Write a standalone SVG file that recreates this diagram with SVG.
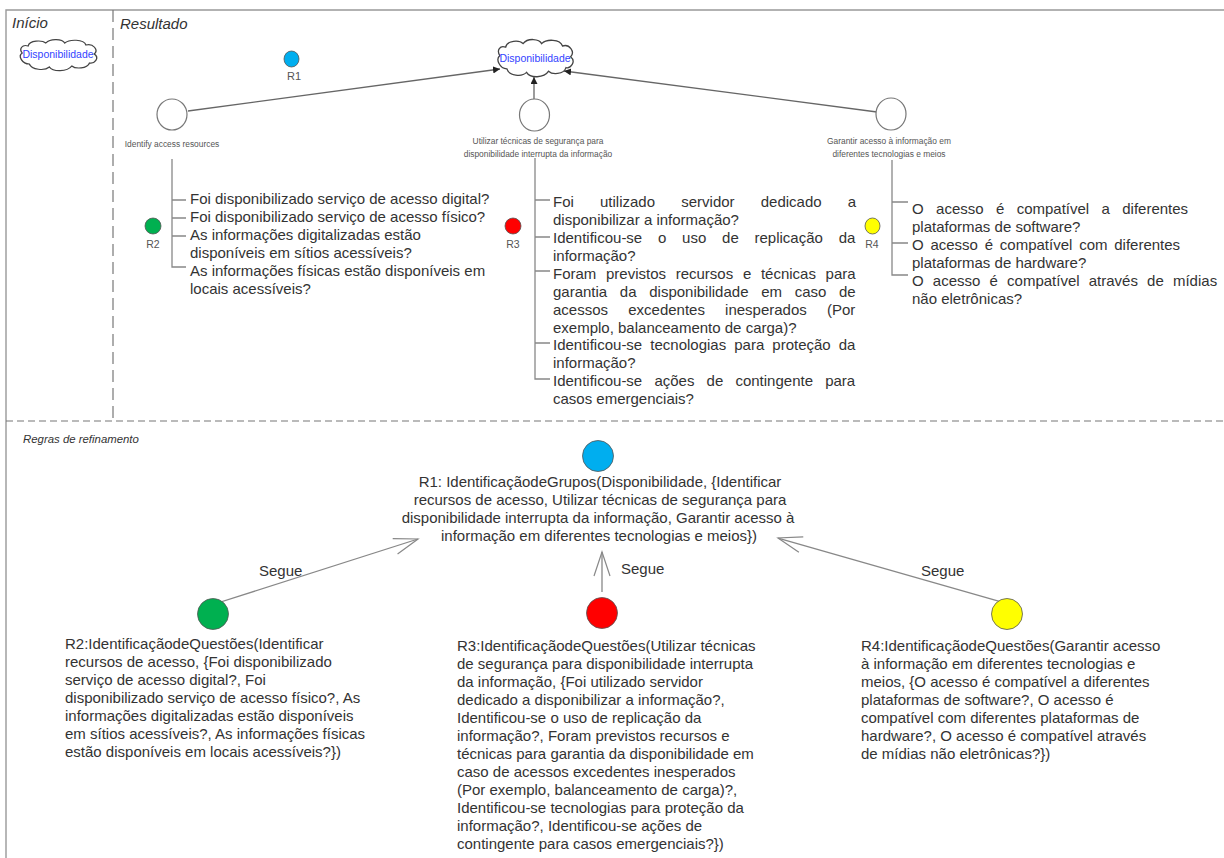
<svg xmlns="http://www.w3.org/2000/svg" width="1224" height="858" viewBox="0 0 1224 858">
<style>
text{font-family:"Liberation Sans",Arial,sans-serif;fill:#333}
.lane{font-size:15px;font-style:italic}
.q{font-size:15px}
.b{font-size:15px}
.s{font-size:8.400px;fill:#555}
.r{font-size:10.500px;fill:#555}
.c{text-anchor:middle}
.cl{font-size:10.500px;fill:#3344ff;text-anchor:middle}
.line{fill:none;stroke:#888;stroke-width:1.3}
.n{fill:#fff;stroke:#777;stroke-width:1.2}
.dot{stroke:#555;stroke-width:.8}
.cloud{fill:#fff;stroke:#444;stroke-width:1.1}
</style>
<defs>
<marker id="tri" markerWidth="8" markerHeight="8" refX="7" refY="3.5" orient="auto" markerUnits="userSpaceOnUse"><path d="M0 0L7 3.5L0 7Z" fill="#222"/></marker>
<marker id="open" markerWidth="30" markerHeight="20" refX="26" refY="10" orient="auto" markerUnits="userSpaceOnUse"><path d="M2 2L26 10L2 18" fill="none" stroke="#888" stroke-width="1.200"/></marker>
<path id="cl" d="M-27 -9C-26 -15 -15 -15 -12 -12C-8 -17 2 -16 4 -12C8 -16 20 -16 22 -10C28 -12 33 -5 29 -1C34 3 29 9 25 8C23 14 13 14 10 11C6 17 -6 17 -9 12C-13 16 -24 15 -26 9C-32 9 -36 1 -32 -2C-35 -6 -32 -11 -27 -9Z"/>
</defs>
<g id="frame">
<path d="M6 858V10H1224" fill="none" stroke="#999" stroke-width="1.400"/>
<path d="M113 10V421" fill="none" stroke="#777" stroke-width="1.200" stroke-dasharray="12 6"/>
<path d="M6 421H1224" fill="none" stroke="#777" stroke-width="1.200" stroke-dasharray="7 4"/>
<text class="lane" x="12" y="28">Início</text>
<text class="lane" x="120" y="29">Resultado</text>
<text class="lane" style="font-size:11.400px" x="23" y="443">Regras de refinamento</text>
</g>
<g id="connectors">
<path class="line" style="stroke:#666" d="M188 111L500 69" marker-end="url(#tri)"/>
<path class="line" style="stroke:#666" d="M534 100V77" marker-end="url(#tri)"/>
<path class="line" style="stroke:#666" d="M877 112L564 71" marker-end="url(#tri)"/>
<path class="line" d="M172 159V267H186M172 200H186M172 218H186M172 236H186"/>
<path class="line" d="M535 158V379H550M535 200H550M535 237H550M535 271H550M535 343H550"/>
<path class="line" d="M892 160V275H908M892 202H908M892 243H908"/>
<path class="line" d="M205 607L418 539" marker-end="url(#open)"/>
<path class="line" d="M602 592V552" marker-end="url(#open)"/>
<path class="line" d="M1002 602L778 538" marker-end="url(#open)"/>
<text class="q" x="259" y="576">Segue</text>
<text class="q" x="621" y="574">Segue</text>
<text class="q" x="921" y="576">Segue</text>
</g>
<g id="cloud-inicio"><use class="cloud" href="#cl" transform="translate(60 55) scale(1.180 1)"/><text class="cl" x="58" y="58">Disponibilidade</text></g>
<g id="cloud-resultado"><use class="cloud" href="#cl" transform="translate(537 58) scale(1.160 1.200)"/><text class="cl" x="535" y="62">Disponibilidade</text></g>
<g id="r1-small"><ellipse class="dot" cx="291.500" cy="59" rx="7.500" ry="8" fill="#00aeef"/><text class="r c" style="font-size:11px" x="294" y="80">R1</text></g>
<g id="goal-1"><ellipse class="n" cx="172" cy="114.500" rx="15" ry="15.500"/><text class="s c" x="172" y="147">Identify access resources</text></g>
<g id="goal-2"><ellipse class="n" cx="534.500" cy="115" rx="15" ry="16"/><text class="s c" x="538" y="144">Utilizar técnicas de segurança para</text><text class="s c" x="538" y="157">disponibilidade interrupta da informação</text></g>
<g id="goal-3"><ellipse class="n" cx="891" cy="114" rx="15" ry="16"/><text class="s c" x="889" y="144">Garantir acesso à informação em</text><text class="s c" x="889" y="157">diferentes tecnologias e meios</text></g>
<g id="r2-small"><circle class="dot" cx="153" cy="226" r="8" fill="#00b050"/><text class="r c" x="153" y="248">R2</text></g>
<g id="r3-small"><circle class="dot" cx="513" cy="226" r="8" fill="#ff0000"/><text class="r c" x="513" y="248">R3</text></g>
<g id="r4-small"><ellipse class="dot" cx="872.500" cy="226" rx="7.500" ry="8" fill="#ffff00"/><text class="r c" x="872" y="248">R4</text></g>
<g id="questions-r2">
<text class="q" x="190" y="204">Foi disponibilizado serviço de acesso digital?</text>
<text class="q" x="190" y="222">Foi disponibilizado serviço de acesso físico?</text>
<text class="q" x="190" y="240">As informações digitalizadas estão</text>
<text class="q" x="190" y="258">disponíveis em sítios acessíveis?</text>
<text class="q" x="190" y="276">As informações físicas estão disponíveis em</text>
<text class="q" x="190" y="294">locais acessíveis?</text>
</g>
<g id="questions-r3">
<text class="q" x="553" y="207" style="word-spacing:22px">Foi utilizado servidor dedicado a</text>
<text class="q" x="553" y="225">disponibilizar a informação?</text>
<text class="q" x="553" y="243" style="word-spacing:11.600px">Identificou-se o uso de replicação da</text>
<text class="q" x="553" y="261">informação?</text>
<text class="q" x="553" y="279" style="word-spacing:5.500px">Foram previstos recursos e técnicas para</text>
<text class="q" x="553" y="297" style="word-spacing:8.500px">garantia da disponibilidade em caso de</text>
<text class="q" x="553" y="315" style="word-spacing:16px">acessos excedentes inesperados (Por</text>
<text class="q" x="553" y="333">exemplo, balanceamento de carga)?</text>
<text class="q" x="553" y="350" style="word-spacing:3.900px">Identificou-se tecnologias para proteção da</text>
<text class="q" x="553" y="368">informação?</text>
<text class="q" x="553" y="386" style="word-spacing:8px">Identificou-se ações de contingente para</text>
<text class="q" x="553" y="404">casos emergenciais?</text>
</g>
<g id="questions-r4">
<text class="q" x="912" y="214" style="word-spacing:8.200px">O acesso é compatível a diferentes</text>
<text class="q" x="912" y="232">plataformas de software?</text>
<text class="q" x="912" y="250" style="word-spacing:2.600px">O acesso é compatível com diferentes</text>
<text class="q" x="912" y="268">plataformas de hardware?</text>
<text class="q" x="912" y="286" style="word-spacing:5px">O acesso é compatível através de mídias</text>
<text class="q" x="912" y="304">não eletrônicas?</text>
</g>
<g id="rule-r1"><circle class="dot" cx="598" cy="456" r="15.500" fill="#00aeef"/>
<text class="b c" x="600" y="487">R1: IdentificaçãodeGrupos(Disponibilidade, {Identificar</text>
<text class="b c" x="600" y="505">recursos de acesso, Utilizar técnicas de segurança para</text>
<text class="b c" x="598" y="523">disponibilidade interrupta da informação, Garantir acesso à</text>
<text class="b c" x="599" y="541">informação em diferentes tecnologias e meios})</text></g>
<g id="rule-r2"><circle class="dot" cx="213" cy="614" r="15.500" fill="#00b050"/>
<text class="b" x="65" y="649">R2:IdentificaçãodeQuestões(Identificar</text>
<text class="b" x="65" y="667">recursos de acesso, {Foi disponibilizado</text>
<text class="b" x="65" y="685">serviço de acesso digital?, Foi</text>
<text class="b" x="65" y="703">disponibilizado serviço de acesso físico?, As</text>
<text class="b" x="65" y="721">informações digitalizadas estão disponíveis</text>
<text class="b" x="65" y="739">em sítios acessíveis?, As informações físicas</text>
<text class="b" x="65" y="757">estão disponíveis em locais acessíveis?})</text></g>
<g id="rule-r3"><circle class="dot" cx="602" cy="613" r="15.500" fill="#ff0000"/>
<text class="b" x="457" y="651">R3:IdentificaçãodeQuestões(Utilizar técnicas</text>
<text class="b" x="457" y="669">de segurança para disponibilidade interrupta</text>
<text class="b" x="457" y="687">da informação, {Foi utilizado servidor</text>
<text class="b" x="457" y="705">dedicado a disponibilizar a informação?,</text>
<text class="b" x="457" y="723">Identificou-se o uso de replicação da</text>
<text class="b" x="457" y="741">informação?, Foram previstos recursos e</text>
<text class="b" x="457" y="759">técnicas para garantia da disponibilidade em</text>
<text class="b" x="457" y="777">caso de acessos excedentes inesperados</text>
<text class="b" x="457" y="795">(Por exemplo, balanceamento de carga)?,</text>
<text class="b" x="457" y="813">Identificou-se tecnologias para proteção da</text>
<text class="b" x="457" y="831">informação?, Identificou-se ações de</text>
<text class="b" x="457" y="849">contingente para casos emergenciais?})</text></g>
<g id="rule-r4"><circle class="dot" cx="1007" cy="614" r="15.500" fill="#ffff00"/>
<text class="b" x="861" y="651">R4:IdentificaçãodeQuestões(Garantir acesso</text>
<text class="b" x="861" y="669">à informação em diferentes tecnologias e</text>
<text class="b" x="861" y="687">meios, {O acesso é compatível a diferentes</text>
<text class="b" x="861" y="705">plataformas de software?, O acesso é</text>
<text class="b" x="861" y="723">compatível com diferentes plataformas de</text>
<text class="b" x="861" y="741">hardware?, O acesso é compatível através</text>
<text class="b" x="861" y="759">de mídias não eletrônicas?})</text></g>
</svg>
